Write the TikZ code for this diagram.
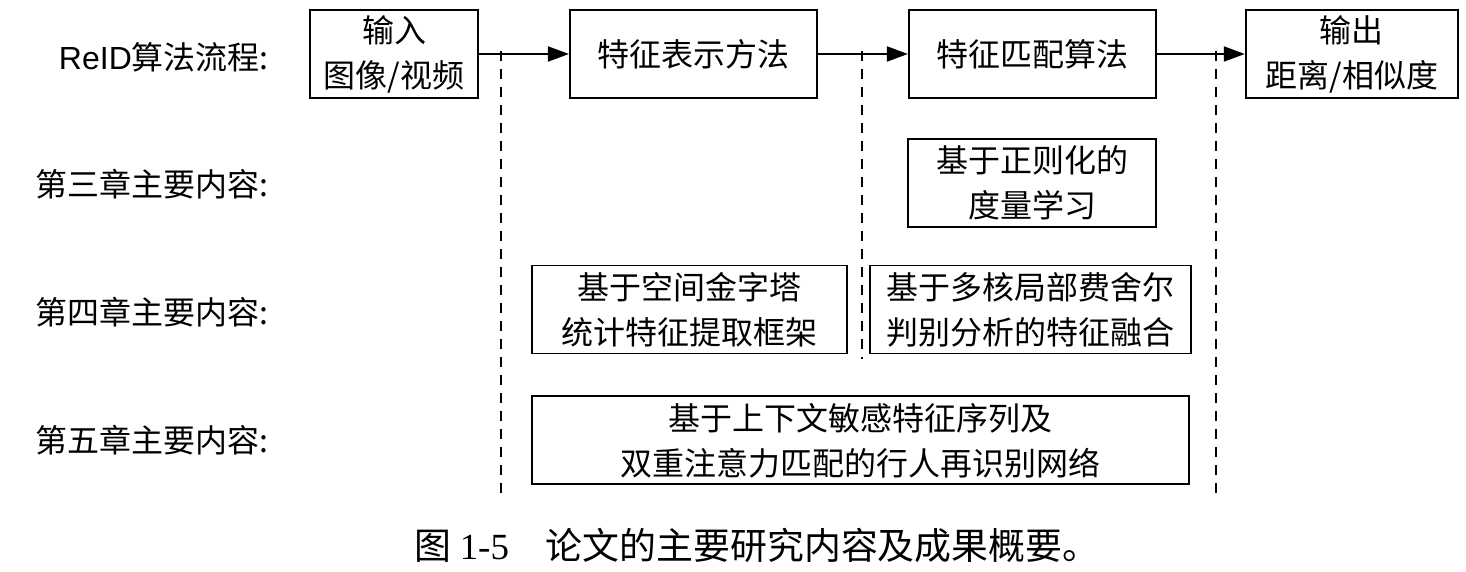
\documentclass[tikz,border=0pt]{standalone}
\usepackage{fontspec}
\setmainfont{Noto Sans CJK SC}
\newfontfamily\capserif{Liberation Serif}
\newfontfamily\latinsans{Liberation Sans}
\usetikzlibrary{arrows.meta,calc,positioning}

\begin{document}
\begin{tikzpicture}[
  font=\fontsize{18.2}{25.5}\selectfont,
  node distance=18mm,
  box/.style={draw, line width=1.1pt, align=center, inner sep=2pt,
              minimum height=17.6mm},
  lab/.style={anchor=east, inner sep=0pt},
  arrow/.style={-{Triangle[length=4.2mm,width=3mm]}, line width=1.1pt},
  guide/.style={dash pattern=on 2mm off 1.6mm, line width=1.2pt}
]
  \useasboundingbox (0,0) rectangle (293.2mm,-114.4mm);

  % ReID pipeline
  \node[box, minimum width=33.6mm] (in) at (78.8mm,-10.8mm) {输入\\图像/视频};
  \node[box, right=of in, minimum width=49.4mm] (rep) {特征表示方法};
  \node[box, right=of rep, minimum width=49.4mm] (mat) {特征匹配算法};
  \node[box, right=17.6mm of mat, minimum width=42.4mm] (out) {输出\\距离/相似度};

  % chapter contents
  \node[box, below=7.8mm of mat, minimum width=49.6mm] (reg) {基于正则化的\\度量学习};
  \node[box, minimum width=63mm] (pyr) at (137.9mm,-61.9mm) {基于空间金字塔\\统计特征提取框架};
  \node[box, right=4.2mm of pyr, minimum width=64.2mm] (mkl) {基于多核局部费舍尔\\判别分析的特征融合};
  \node[box, below=8.2mm of pyr.south west, anchor=north west, minimum width=131.4mm] (seq)
    {基于上下文敏感特征序列及\\双重注意力匹配的行人再识别网络};

  % row labels
  \node[lab, left=8mm of in, yshift=-0.6mm] (flow) {{\latinsans ReID}算法流程:};
  \node[lab] (ch3) at ($(flow.east |- reg)+(0,-0.3mm)$) {第三章主要内容:};
  \node[lab] (ch4) at ($(flow.east |- pyr)+(0,-0.5mm)$) {第四章主要内容:};
  \node[lab] (ch5) at (flow.east |- seq) {第五章主要内容:};

  \draw[arrow] (in) -- (rep);
  \draw[arrow] (rep) -- (mat);
  \draw[arrow] (mat) -- (out);

  % stage borders
  \coordinate (g1) at ($(in.east)!0.24!(rep.west)$);
  \coordinate (g2) at ($(rep.east)!0.49!(mat.west)$);
  \coordinate (g3) at ($(mat.east)!0.67!(out.west)$);
  \coordinate (bot) at ($(seq.south)+(0,-2.8mm)$);
  \draw[guide] ($(g1)+(0,0.6mm)$) -- (g1 |- bot);
  \draw[guide] ($(g2)+(0,0.6mm)$) -- ($(g2 |- pyr.south)+(0,-1mm)$);
  \draw[guide] ($(g3)+(0,0.6mm)$) -- ($(g3 |- seq.south)+(0,-1.8mm)$);

  \node (cap) at (151.4mm,-109mm)
    {\fontsize{21}{24}\selectfont 图 {\capserif 1-5}\hspace{1em}论文的主要研究内容及成果概要。};
\end{tikzpicture}
\end{document}
